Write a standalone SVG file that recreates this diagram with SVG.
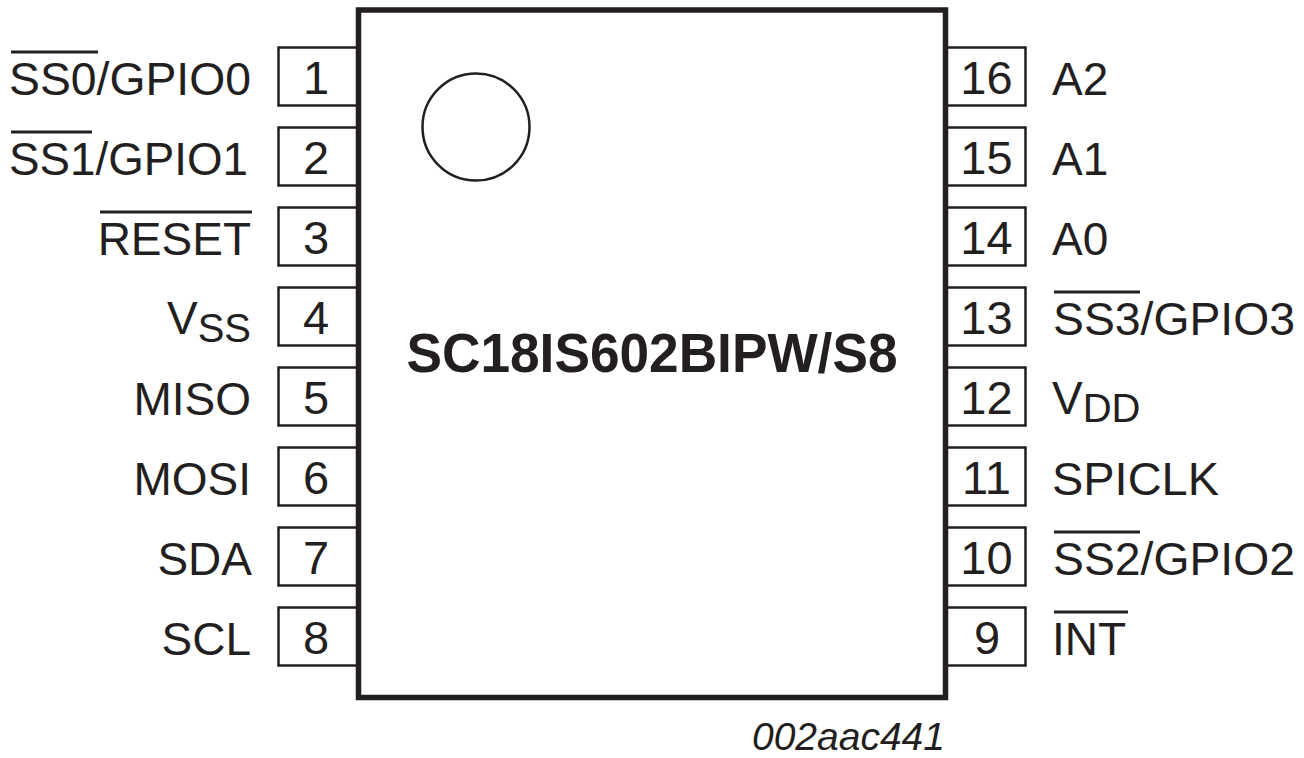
<svg xmlns="http://www.w3.org/2000/svg" width="1304" height="758" viewBox="0 0 1304 758">
<style>
text{font-family:"Liberation Sans",Arial,sans-serif;fill:#231f20;font-size:46px}
.pin{fill:#fff;stroke:#231f20;stroke-width:2.5}
.n{text-anchor:middle;font-size:47px}
.l{text-anchor:end}
.sub{font-size:40px}
.o{stroke:#231f20;stroke-width:3;fill:none}
.name{font-size:55px;font-weight:700;text-anchor:middle}
.code{font-size:39px;font-style:italic;text-anchor:end}
</style>
<rect width="1304" height="758" fill="#fff"/>
<g id="pins-left">
<g id="pin1"><rect class="pin" x="278.500" y="47.500" width="80" height="58"/><text class="n" x="316" y="93.500">1</text><text x="9" y="95" textLength="242" lengthAdjust="spacingAndGlyphs">SS0/GPIO0</text><path class="o" d="M11 52H98"/></g>
<g id="pin2"><rect class="pin" x="278.500" y="127.500" width="80" height="58"/><text class="n" x="316" y="173.500">2</text><text x="9" y="175" textLength="239" lengthAdjust="spacingAndGlyphs">SS1/GPIO1</text><path class="o" d="M11 132H92"/></g>
<g id="pin3"><rect class="pin" x="278.500" y="207.500" width="80" height="58"/><text class="n" x="316" y="253.500">3</text><text class="l" x="251" y="255">RESET</text><path class="o" d="M100 212H252"/></g>
<g id="pin4"><rect class="pin" x="278.500" y="287.500" width="80" height="58"/><text class="n" x="316" y="333.500">4</text><text class="l" x="251" y="334">V<tspan class="sub" dy="8">SS</tspan></text></g>
<g id="pin5"><rect class="pin" x="278.500" y="367.500" width="80" height="58"/><text class="n" x="316" y="413.500">5</text><text class="l" x="251" y="415">MISO</text></g>
<g id="pin6"><rect class="pin" x="278.500" y="447.500" width="80" height="58"/><text class="n" x="316" y="493.500">6</text><text class="l" x="251" y="495">MOSI</text></g>
<g id="pin7"><rect class="pin" x="278.500" y="527.500" width="80" height="58"/><text class="n" x="316" y="573.500">7</text><text class="l" x="252" y="575">SDA</text></g>
<g id="pin8"><rect class="pin" x="278.500" y="607.500" width="80" height="58"/><text class="n" x="316" y="653.500">8</text><text class="l" x="251" y="655">SCL</text></g>
</g>
<g id="pins-right">
<g id="pin16"><rect class="pin" x="946.500" y="47.500" width="79" height="58"/><text class="n" x="986.500" y="93.500">16</text><text x="1052" y="95">A2</text></g>
<g id="pin15"><rect class="pin" x="946.500" y="127.500" width="79" height="58"/><text class="n" x="986.500" y="173.500">15</text><text x="1052" y="175">A1</text></g>
<g id="pin14"><rect class="pin" x="946.500" y="207.500" width="79" height="58"/><text class="n" x="986.500" y="253.500">14</text><text x="1052" y="255">A0</text></g>
<g id="pin13"><rect class="pin" x="946.500" y="287.500" width="79" height="58"/><text class="n" x="986.500" y="333.500">13</text><text x="1053" y="335" textLength="242" lengthAdjust="spacingAndGlyphs">SS3/GPIO3</text><path class="o" d="M1054 292H1140"/></g>
<g id="pin12"><rect class="pin" x="946.500" y="367.500" width="79" height="58"/><text class="n" x="986.500" y="413.500">12</text><text x="1052" y="414">V<tspan class="sub" dy="8">DD</tspan></text></g>
<g id="pin11"><rect class="pin" x="946.500" y="447.500" width="79" height="58"/><text class="n" x="986.500" y="493.500">11</text><text x="1052" y="495" textLength="167" lengthAdjust="spacingAndGlyphs">SPICLK</text></g>
<g id="pin10"><rect class="pin" x="946.500" y="527.500" width="79" height="58"/><text class="n" x="986.500" y="573.500">10</text><text x="1053" y="575" textLength="242" lengthAdjust="spacingAndGlyphs">SS2/GPIO2</text><path class="o" d="M1054 532H1140"/></g>
<g id="pin9"><rect class="pin" x="946.500" y="607.500" width="79" height="58"/><text class="n" x="987" y="653.500">9</text><text x="1052" y="655">INT</text><path class="o" d="M1054 612H1128"/></g>
</g>
<g id="chip">
<rect x="358.500" y="10" width="587" height="687.500" fill="#fff" stroke="#231f20" stroke-width="5.500"/>
<circle cx="476" cy="127" r="53.500" fill="none" stroke="#231f20" stroke-width="2.500"/>
<text class="name" x="652" y="372" textLength="491" lengthAdjust="spacingAndGlyphs">SC18IS602BIPW/S8</text>
</g>
<text id="code" class="code" x="945" y="750">002aac441</text>
</svg>
